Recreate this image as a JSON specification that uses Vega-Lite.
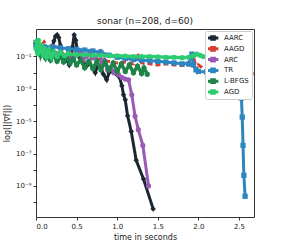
{
 "$schema": "https://vega.github.io/schema/vega-lite/v6.json",
 "width": 218, "height": 188,
 "autosize": {"type": "none"},
 "padding": {"left": 36, "top": 29, "right": 29, "bottom": 28},
 "title": {"text": "sonar (n=208, d=60)", "fontSize": 9, "fontWeight": "normal", "font": "DejaVu Sans", "offset": 3, "color": "#222"},
 "config": {
  "font": "DejaVu Sans",
  "view": {"stroke": "#333", "strokeWidth": 1},
  "axis": {"grid": false, "domain": false, "tickColor": "#333", "tickSize": 3, "labelFontSize": 7, "labelColor": "#222", "titleFontSize": 8, "titleFontWeight": "normal", "titleColor": "#222"}
 },
 "data": {"values": [
  {"s":"AARC","t":0.00,"g":0.45},{"s":"AARC","t":0.02,"g":0.25},{"s":"AARC","t":0.05,"g":0.3},{"s":"AARC","t":0.08,"g":0.18},{"s":"AARC","t":0.11,"g":0.22},{"s":"AARC","t":0.14,"g":0.12},{"s":"AARC","t":0.17,"g":0.2},{"s":"AARC","t":0.20,"g":0.35},{"s":"AARC","t":0.22,"g":0.9},{"s":"AARC","t":0.24,"g":1.8},{"s":"AARC","t":0.26,"g":2.2},{"s":"AARC","t":0.28,"g":1.5},{"s":"AARC","t":0.30,"g":0.5},{"s":"AARC","t":0.32,"g":0.15},{"s":"AARC","t":0.35,"g":0.08},{"s":"AARC","t":0.38,"g":0.06},{"s":"AARC","t":0.41,"g":0.03},{"s":"AARC","t":0.43,"g":0.05},{"s":"AARC","t":0.45,"g":0.4},{"s":"AARC","t":0.47,"g":2.2},{"s":"AARC","t":0.49,"g":1.0},{"s":"AARC","t":0.51,"g":0.2},{"s":"AARC","t":0.54,"g":0.08},{"s":"AARC","t":0.58,"g":0.05},{"s":"AARC","t":0.62,"g":0.025},{"s":"AARC","t":0.66,"g":0.04},{"s":"AARC","t":0.70,"g":0.02},{"s":"AARC","t":0.73,"g":0.01},{"s":"AARC","t":0.76,"g":0.03},{"s":"AARC","t":0.80,"g":0.02},{"s":"AARC","t":0.83,"g":0.008},{"s":"AARC","t":0.87,"g":0.0036},{"s":"AARC","t":0.90,"g":0.01},{"s":"AARC","t":0.95,"g":0.012},{"s":"AARC","t":0.99,"g":0.008},{"s":"AARC","t":1.03,"g":0.005},{"s":"AARC","t":1.058,"g":0.00155},{"s":"AARC","t":1.078,"g":0.00043},{"s":"AARC","t":1.099,"g":0.00021},{"s":"AARC","t":1.128,"g":0.000022},{"s":"AARC","t":1.173,"g":0.0000023},{"s":"AARC","t":1.234,"g":3.8e-8},{"s":"AARC","t":1.324,"g":2.7e-9},{"s":"AARC","t":1.443,"g":3.8e-11},
  {"s":"AAGD","t":0.00,"g":0.6},{"s":"AAGD","t":0.05,"g":0.4},{"s":"AAGD","t":0.10,"g":0.8},{"s":"AAGD","t":0.15,"g":0.3},{"s":"AAGD","t":0.20,"g":0.5},{"s":"AAGD","t":0.30,"g":0.3},{"s":"AAGD","t":0.40,"g":0.2},{"s":"AAGD","t":0.50,"g":0.15},{"s":"AAGD","t":0.60,"g":0.1},{"s":"AAGD","t":0.70,"g":0.08},{"s":"AAGD","t":0.80,"g":0.06},{"s":"AAGD","t":0.90,"g":0.05},{"s":"AAGD","t":1.00,"g":0.04},{"s":"AAGD","t":1.10,"g":0.045},{"s":"AAGD","t":1.20,"g":0.035},{"s":"AAGD","t":1.25,"g":0.15},{"s":"AAGD","t":1.30,"g":0.04},{"s":"AAGD","t":1.40,"g":0.035},{"s":"AAGD","t":1.50,"g":0.03},{"s":"AAGD","t":1.60,"g":0.035},{"s":"AAGD","t":1.70,"g":0.03},{"s":"AAGD","t":1.80,"g":0.028},{"s":"AAGD","t":1.90,"g":0.03},{"s":"AAGD","t":1.95,"g":0.06},{"s":"AAGD","t":1.98,"g":0.015},{"s":"AAGD","t":2.00,"g":0.03},{"s":"AAGD","t":2.05,"g":0.02},{"s":"AAGD","t":2.10,"g":0.015},{"s":"AAGD","t":2.20,"g":0.013},{"s":"AAGD","t":2.30,"g":0.012},{"s":"AAGD","t":2.40,"g":0.011},{"s":"AAGD","t":2.50,"g":0.01},{"s":"AAGD","t":2.60,"g":0.009},{"s":"AAGD","t":2.68,"g":0.0085},
  {"s":"ARC","t":0.00,"g":0.6},{"s":"ARC","t":0.03,"g":0.35},{"s":"ARC","t":0.06,"g":0.25},{"s":"ARC","t":0.10,"g":0.2},{"s":"ARC","t":0.15,"g":0.15},{"s":"ARC","t":0.20,"g":0.12},{"s":"ARC","t":0.25,"g":0.15},{"s":"ARC","t":0.30,"g":0.1},{"s":"ARC","t":0.35,"g":0.12},{"s":"ARC","t":0.40,"g":0.08},{"s":"ARC","t":0.45,"g":0.1},{"s":"ARC","t":0.50,"g":0.12},{"s":"ARC","t":0.55,"g":0.2},{"s":"ARC","t":0.58,"g":0.06},{"s":"ARC","t":0.62,"g":0.1},{"s":"ARC","t":0.66,"g":0.15},{"s":"ARC","t":0.70,"g":0.08},{"s":"ARC","t":0.74,"g":0.1},{"s":"ARC","t":0.79,"g":0.2},{"s":"ARC","t":0.81,"g":0.03},{"s":"ARC","t":0.84,"g":0.06},{"s":"ARC","t":0.88,"g":0.015},{"s":"ARC","t":0.92,"g":0.02},{"s":"ARC","t":0.96,"g":0.01},{"s":"ARC","t":1.017,"g":0.0074},{"s":"ARC","t":1.06,"g":0.005},{"s":"ARC","t":1.10,"g":0.004},{"s":"ARC","t":1.14,"g":0.0036},{"s":"ARC","t":1.18,"g":0.00043},{"s":"ARC","t":1.22,"g":0.00002},{"s":"ARC","t":1.26,"g":0.000003},{"s":"ARC","t":1.316,"g":3.2e-7},{"s":"ARC","t":1.386,"g":1e-9},
  {"s":"TR","t":0.00,"g":0.5},{"s":"TR","t":0.03,"g":0.45},{"s":"TR","t":0.06,"g":0.4},{"s":"TR","t":0.10,"g":0.4},{"s":"TR","t":0.20,"g":0.4},{"s":"TR","t":0.30,"g":0.35},{"s":"TR","t":0.40,"g":0.3},{"s":"TR","t":0.50,"g":0.28},{"s":"TR","t":0.60,"g":0.25},{"s":"TR","t":0.70,"g":0.22},{"s":"TR","t":0.80,"g":0.18},{"s":"TR","t":0.90,"g":0.12},{"s":"TR","t":1.00,"g":0.09},{"s":"TR","t":1.10,"g":0.075},{"s":"TR","t":1.20,"g":0.065},{"s":"TR","t":1.30,"g":0.06},{"s":"TR","t":1.40,"g":0.055},{"s":"TR","t":1.50,"g":0.05},{"s":"TR","t":1.60,"g":0.045},{"s":"TR","t":1.70,"g":0.04},{"s":"TR","t":1.80,"g":0.035},{"s":"TR","t":1.88,"g":0.035},{"s":"TR","t":1.92,"g":0.14},{"s":"TR","t":1.94,"g":0.03},{"s":"TR","t":1.97,"g":0.015},{"s":"TR","t":2.00,"g":0.012},{"s":"TR","t":2.10,"g":0.011},{"s":"TR","t":2.20,"g":0.01},{"s":"TR","t":2.30,"g":0.009},{"s":"TR","t":2.40,"g":0.008},{"s":"TR","t":2.50,"g":0.006},{"s":"TR","t":2.53,"g":0.00027},{"s":"TR","t":2.54,"g":0.000018},{"s":"TR","t":2.55,"g":3.2e-7},{"s":"TR","t":2.56,"g":4.5e-9},{"s":"TR","t":2.575,"g":2.3e-10},
  {"s":"L-BFGS","t":0.00,"g":0.7},{"s":"L-BFGS","t":0.02,"g":0.2},{"s":"L-BFGS","t":0.04,"g":0.5},{"s":"L-BFGS","t":0.06,"g":0.12},{"s":"L-BFGS","t":0.09,"g":0.3},{"s":"L-BFGS","t":0.12,"g":0.08},{"s":"L-BFGS","t":0.15,"g":0.15},{"s":"L-BFGS","t":0.18,"g":0.06},{"s":"L-BFGS","t":0.22,"g":0.12},{"s":"L-BFGS","t":0.26,"g":0.05},{"s":"L-BFGS","t":0.30,"g":0.1},{"s":"L-BFGS","t":0.34,"g":0.045},{"s":"L-BFGS","t":0.38,"g":0.09},{"s":"L-BFGS","t":0.42,"g":0.04},{"s":"L-BFGS","t":0.46,"g":0.07},{"s":"L-BFGS","t":0.50,"g":0.03},{"s":"L-BFGS","t":0.55,"g":0.06},{"s":"L-BFGS","t":0.60,"g":0.02},{"s":"L-BFGS","t":0.65,"g":0.05},{"s":"L-BFGS","t":0.70,"g":0.018},{"s":"L-BFGS","t":0.75,"g":0.05},{"s":"L-BFGS","t":0.80,"g":0.015},{"s":"L-BFGS","t":0.85,"g":0.045},{"s":"L-BFGS","t":0.90,"g":0.015},{"s":"L-BFGS","t":0.95,"g":0.04},{"s":"L-BFGS","t":1.00,"g":0.012},{"s":"L-BFGS","t":1.05,"g":0.035},{"s":"L-BFGS","t":1.10,"g":0.012},{"s":"L-BFGS","t":1.15,"g":0.03},{"s":"L-BFGS","t":1.20,"g":0.01},{"s":"L-BFGS","t":1.25,"g":0.025},{"s":"L-BFGS","t":1.30,"g":0.009},{"s":"L-BFGS","t":1.33,"g":0.02},{"s":"L-BFGS","t":1.37,"g":0.008},
  {"s":"AGD","t":0.00,"g":0.3},{"s":"AGD","t":0.01,"g":0.9},{"s":"AGD","t":0.02,"g":0.15},{"s":"AGD","t":0.03,"g":1.0},{"s":"AGD","t":0.05,"g":0.2},{"s":"AGD","t":0.07,"g":0.5},{"s":"AGD","t":0.09,"g":0.12},{"s":"AGD","t":0.11,"g":0.3},{"s":"AGD","t":0.13,"g":0.1},{"s":"AGD","t":0.16,"g":0.25},{"s":"AGD","t":0.19,"g":0.09},{"s":"AGD","t":0.22,"g":0.2},{"s":"AGD","t":0.26,"g":0.1},{"s":"AGD","t":0.30,"g":0.18},{"s":"AGD","t":0.35,"g":0.11},{"s":"AGD","t":0.40,"g":0.15},{"s":"AGD","t":0.50,"g":0.13},{"s":"AGD","t":0.60,"g":0.13},{"s":"AGD","t":0.70,"g":0.12},{"s":"AGD","t":0.80,"g":0.12},{"s":"AGD","t":0.90,"g":0.11},{"s":"AGD","t":1.00,"g":0.11},{"s":"AGD","t":1.10,"g":0.105},{"s":"AGD","t":1.20,"g":0.1},{"s":"AGD","t":1.30,"g":0.1},{"s":"AGD","t":1.40,"g":0.1},{"s":"AGD","t":1.50,"g":0.095},{"s":"AGD","t":1.60,"g":0.09},{"s":"AGD","t":1.70,"g":0.09},{"s":"AGD","t":1.80,"g":0.085},{"s":"AGD","t":1.88,"g":0.09},{"s":"AGD","t":1.94,"g":0.11},{"s":"AGD","t":1.98,"g":0.14},{"s":"AGD","t":2.02,"g":0.12},{"s":"AGD","t":2.06,"g":0.1}
 ]},
 "encoding": {
  "x": {"field": "t", "type": "quantitative", "scale": {"domain": [0, 2.685], "nice": false, "zero": false},
        "axis": {"values": [0, 0.5, 1, 1.5, 2, 2.5], "format": ".1f", "title": "time in seconds", "titlePadding": 4}},
  "y": {"field": "g", "type": "quantitative", "scale": {"type": "log", "domain": [1.2e-11, 5], "nice": false},
        "axis": {"values": [1, 0.1, 0.01, 0.001, 0.0001, 1e-5, 1e-6, 1e-7, 1e-8, 1e-9, 1e-10, 1e-11],
                 "labelExpr": "datum.value > 0.05 && datum.value < 0.2 ? '10⁻¹' : datum.value > 5e-4 && datum.value < 2e-3 ? '10⁻³' : datum.value > 5e-6 && datum.value < 2e-5 ? '10⁻⁵' : datum.value > 5e-8 && datum.value < 2e-7 ? '10⁻⁷' : datum.value > 5e-10 && datum.value < 2e-9 ? '10⁻⁹' : ''",
                 "title": "log(||∇f||)", "titlePadding": 4}},
  "color": {"field": "s", "type": "nominal",
            "scale": {"domain": ["AARC", "AAGD", "ARC", "TR", "L-BFGS", "AGD"], "range": ["#1c2733", "#d83c2e", "#9b59b6", "#2e86c1", "#1e8449", "#2ecc71"]},
            "legend": {"title": null, "orient": "top-right", "offset": 2, "fillColor": "white", "strokeColor": "#ccc", "padding": 3, "cornerRadius": 2, "labelFontSize": 7, "labelColor": "#222",
                       "symbolType": "M-1.6,0L1.6,0M-0.4,-0.4L0.4,-0.4L0.4,0.4L-0.4,0.4Z", "symbolStrokeWidth": 3, "symbolSize": 45, "labelOffset": 6, "clipHeight": 8, "rowPadding": 2.8}}
 },
 "layer": [
  {"transform": [{"filter": "datum.s == 'AARC'"}], "mark": {"type": "line", "strokeWidth": 3, "point": {"filled": true, "size": 30, "shape": "diamond"}}},
  {"transform": [{"filter": "datum.s == 'AAGD'"}], "mark": {"type": "line", "strokeWidth": 3, "strokeDash": [5, 3]}},
  {"transform": [{"filter": "datum.s == 'ARC'"}], "mark": {"type": "line", "strokeWidth": 3, "point": {"filled": true, "size": 26, "shape": "circle"}}},
  {"transform": [{"filter": "datum.s == 'TR'"}], "mark": {"type": "line", "strokeWidth": 3, "point": {"filled": true, "size": 28, "shape": "square"}}},
  {"transform": [{"filter": "datum.s == 'L-BFGS'"}], "mark": {"type": "line", "strokeWidth": 3.5, "point": {"filled": true, "size": 28, "shape": "circle"}}},
  {"transform": [{"filter": "datum.s == 'AGD'"}], "mark": {"type": "line", "strokeWidth": 3.5, "point": {"filled": true, "size": 26, "shape": "circle"}}}
 ]
}
